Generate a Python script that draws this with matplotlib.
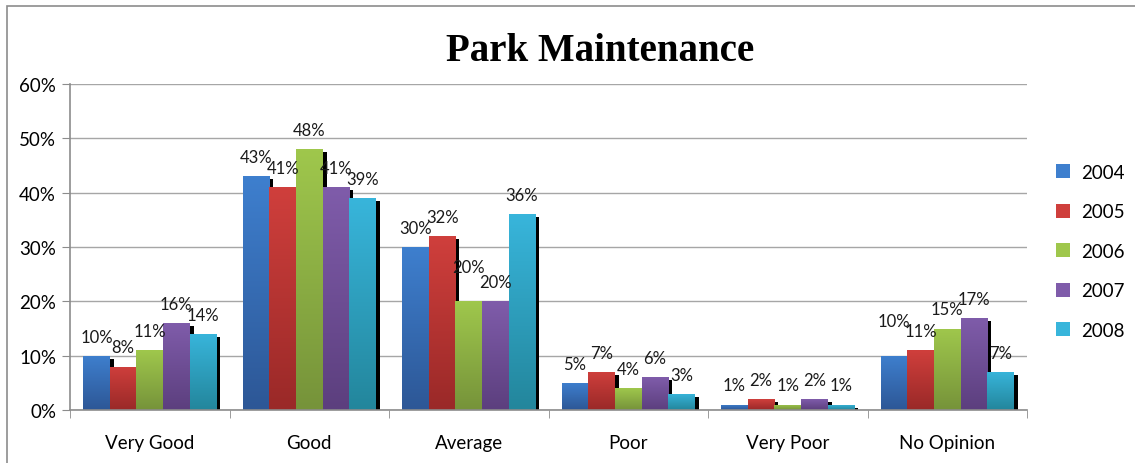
import numpy as np
import matplotlib
matplotlib.use("Agg")
import matplotlib.pyplot as plt
from matplotlib.patches import Rectangle
from matplotlib.transforms import offset_copy
from matplotlib.colors import to_rgb

# data (percent)
categories = ["Very Good", "Good", "Average", "Poor", "Very Poor", "No Opinion"]
years = ["2004", "2005", "2006", "2007", "2008"]
v2004 = [10, 43, 30, 5, 1, 10]
v2005 = [8, 41, 32, 7, 2, 11]
v2006 = [11, 48, 20, 4, 1, 15]
v2007 = [16, 41, 20, 6, 2, 17]
v2008 = [14, 39, 36, 3, 1, 7]
series = [v2004, v2005, v2006, v2007, v2008]

# top / bottom colour of each bar gradient
tops = ["#3e7fce", "#cf3f3c", "#9fc74c", "#7f5caa", "#38b5db"]
bottoms = ["#2d5796", "#9a2928", "#76933a", "#5c3f7e", "#23869c"]

plt.rcParams["font.family"] = ["Lato", "DejaVu Sans"]

fig = plt.figure(figsize=(11.35, 4.64), dpi=100)
ax = fig.add_axes([70 / 1135, 53 / 464, 957 / 1135, 326 / 464])

# frame around the whole chart (cut off at right and bottom like the screenshot)
fig.patches.append(Rectangle((7 / 1135, -0.1), 1.2, (464 - 7) / 464 + 0.1,
                             transform=fig.transFigure, fill=False,
                             edgecolor="#8c8c8c", linewidth=1.2))

w = 1 / 6
x = np.arange(len(categories))
shadow_tr = offset_copy(ax.transData, fig=fig, x=4, y=-3, units="dots")

handles = []
for i, vals in enumerate(series):
    xs = x + (i - 2) * w
    # black drop shadow
    ax.bar(xs, vals, width=w, color="black", transform=shadow_tr, zorder=2 + i * 2)
    bars = ax.bar(xs, vals, width=w, color=tops[i], linewidth=0, zorder=3 + i * 2,
                  label=years[i])
    handles.append(bars)
    grad = np.linspace(0, 1, 64)[:, None, None]
    c = (1 - grad) * np.array(to_rgb(tops[i])) + grad * np.array(to_rgb(bottoms[i]))
    for j, (b, v) in enumerate(zip(bars, vals)):
        im = ax.imshow(c, extent=[b.get_x(), b.get_x() + w, 0, v], aspect="auto",
                       zorder=3 + i * 2, origin="upper", interpolation="bilinear")
        im.set_clip_path(b)
        # lift a two-digit label when the next bar is about as tall, so they don't collide
        dy = 8
        if i + 1 < len(series):
            nxt = series[i + 1][j]
            if abs(nxt - v) <= 1 and min(v, nxt) >= 10:
                dy += 11
        ax.annotate(f"{v}%", (b.get_x() + w / 2, v), xytext=(0, dy),
                    textcoords="offset points", ha="center", va="bottom",
                    fontsize=12, color="#1a1a1a", zorder=20)

ax.set_xlim(-0.5, len(categories) - 0.5)
ax.set_ylim(0, 60)
ax.set_yticks(range(0, 61, 10))
ax.set_yticklabels([f"{t}%" for t in range(0, 61, 10)], fontsize=13.5)
ax.set_xticks(x)
ax.set_xticklabels(categories, fontsize=13.5)
ax.set_xticks(np.arange(-0.5, len(categories)), minor=True)
ax.tick_params(axis="x", which="major", length=0, pad=17)
ax.tick_params(axis="x", which="minor", length=6, color="#8c8c8c", direction="out")
ax.tick_params(axis="y", length=6, color="#8c8c8c", pad=4)
ax.yaxis.grid(True, color="#a6a6a6", linewidth=1)
ax.set_axisbelow(True)
for s in ["top", "right"]:
    ax.spines[s].set_visible(False)
for s in ["left", "bottom"]:
    ax.spines[s].set_color("#8c8c8c")
    ax.spines[s].set_linewidth(1.2)
ax.spines["bottom"].set_zorder(30)

fig.text(600 / 1135, 1 - 52 / 464, "Park Maintenance", ha="center", va="center",
         fontsize=28, fontweight="bold", family="Liberation Serif")

leg = fig.legend(handles=handles, loc="upper left",
                 bbox_to_anchor=(1039 / 1135, 1 - 148 / 464), frameon=False,
                 fontsize=13.5, labelspacing=1.2, handlelength=0.75,
                 handleheight=0.75, handletextpad=0.6)
for h in leg.legend_handles:
    h.set_edgecolor("none")

fig.savefig("out.png", dpi=100)
